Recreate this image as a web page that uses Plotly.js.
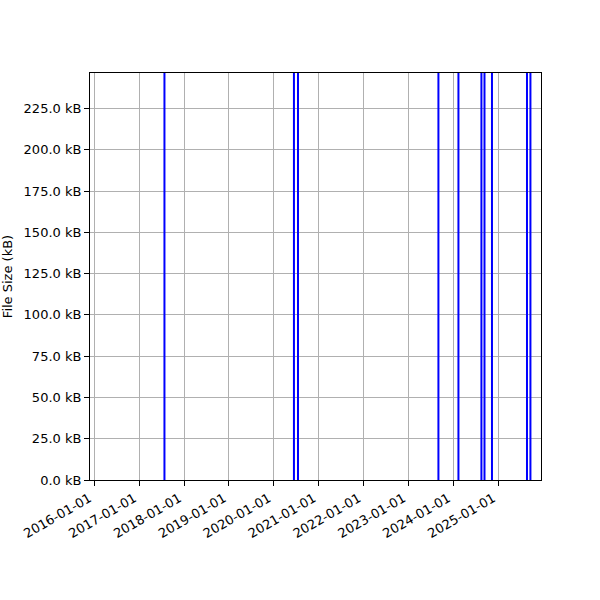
<!DOCTYPE html>
<html>
<head>
<meta charset="utf-8">
<script src="https://cdn.plot.ly/plotly-3.0.1.min.js"></script>
<style>html,body{margin:0;padding:0;background:#fff}#chart{width:600px;height:600px}</style>
</head>
<body>
<div id="chart"></div>
<script>
// File size spikes (kB)
const commitDates = [
  '2017-07-25', '2020-06-13', '2020-07-16', '2023-09-02', '2024-02-12',
  '2024-08-17', '2024-09-11', '2024-11-11', '2025-08-23', '2025-09-20'
];
const fileSizesKB = [246.5, 246.5, 246.5, 246.5, 246.5, 246.5, 246.5, 246.5, 246.5, 246.5];
const yTickValues = [0, 25, 50, 75, 100, 125, 150, 175, 200, 225];
const yTickLabels = yTickValues.map(v => v.toFixed(1) + ' kB');

const xs = [], ys = [];
commitDates.forEach((d, i) => { xs.push(d, d, null); ys.push(0, fileSizesKB[i], null); });

const trace = {
  type: 'scatter', mode: 'lines', x: xs, y: ys,
  line: {color: '#0000ff', width: 2}, hoverinfo: 'skip', showlegend: false
};

const font = {family: 'DejaVu Sans, sans-serif', size: 13, color: '#000'};
const layout = {
  width: 600, height: 600,
  margin: {l: 90, r: 59, t: 73, b: 120, pad: 0},
  paper_bgcolor: '#fff', plot_bgcolor: '#fff',
  font: font,
  showlegend: false,
  xaxis: {
    type: 'date', range: ['2015-11-27', '2025-12-15'],
    tick0: '2016-01-01', dtick: 'M12', tickformat: '%Y-%m-%d', tickangle: -30,
    ticklabelshift: -5,
    showgrid: true, gridcolor: '#b0b0b0', gridwidth: 1,
    showline: true, linecolor: '#000', linewidth: 1, mirror: true,
    ticks: 'outside', ticklen: 5, tickcolor: '#000', zeroline: false,
    tickfont: font
  },
  yaxis: {
    range: [0, 246.5], tickmode: 'array', tickvals: yTickValues, ticktext: yTickLabels,
    showgrid: true, gridcolor: '#b0b0b0', gridwidth: 1,
    showline: true, linecolor: '#000', linewidth: 1, mirror: true,
    ticks: 'outside', ticklen: 5, tickcolor: '#000', zeroline: false,
    tickfont: font,
    title: {text: 'File Size (kB)', font: font, standoff: 8}
  }
};
Plotly.newPlot('chart', [trace], layout, {staticPlot: true, displayModeBar: false});
</script>
</body>
</html>
